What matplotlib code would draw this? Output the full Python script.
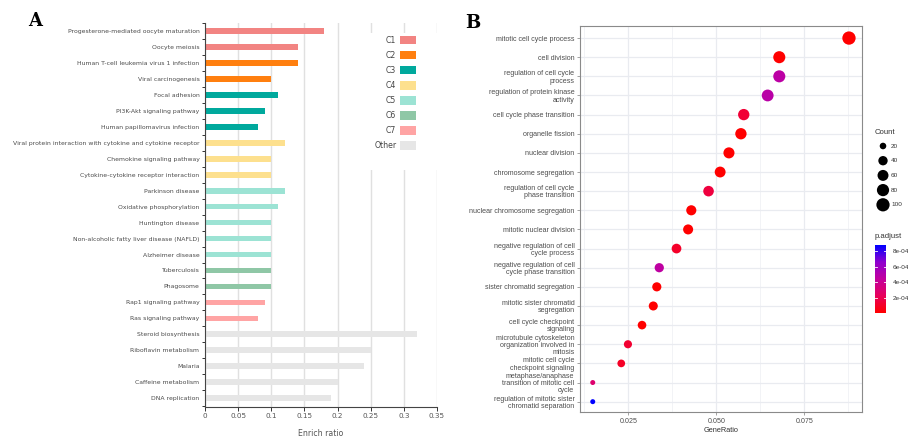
import numpy as np
import matplotlib
matplotlib.use('Agg')
import matplotlib.pyplot as plt
from matplotlib.colors import LinearSegmentedColormap, Normalize
from matplotlib.patches import Patch, Rectangle

# Panel A data
pathways = ['Progesterone-mediated oocyte maturation', 'Oocyte meiosis',
            'Human T-cell leukemia virus 1 infection', 'Viral carcinogenesis',
            'Focal adhesion', 'PI3K-Akt signaling pathway', 'Human papillomavirus infection',
            'Viral protein interaction with cytokine and cytokine receptor',
            'Chemokine signaling pathway', 'Cytokine-cytokine receptor interaction',
            'Parkinson disease', 'Oxidative phosphorylation', 'Huntington disease',
            'Non-alcoholic fatty liver disease (NAFLD)', 'Alzheimer disease',
            'Tuberculosis', 'Phagosome', 'Rap1 signaling pathway', 'Ras signaling pathway',
            'Steroid biosynthesis', 'Riboflavin metabolism', 'Malaria',
            'Caffeine metabolism', 'DNA replication']
enrich = [0.18, 0.14, 0.14, 0.10, 0.11, 0.09, 0.08, 0.12, 0.10, 0.10, 0.12, 0.11,
          0.10, 0.10, 0.10, 0.10, 0.10, 0.09, 0.08, 0.32, 0.25, 0.24, 0.20, 0.19]
cluster = ['C1', 'C1', 'C2', 'C2', 'C3', 'C3', 'C3', 'C4', 'C4', 'C4', 'C5', 'C5',
           'C5', 'C5', 'C5', 'C6', 'C6', 'C7', 'C7', 'Other', 'Other', 'Other',
           'Other', 'Other']
cluster_names = ['C1', 'C2', 'C3', 'C4', 'C5', 'C6', 'C7', 'Other']
cluster_colors = ['#F28482', '#FF7F0F', '#00A99D', '#FDE08E', '#9CE3D4',
                  '#8FC7A6', '#FFA4A4', '#E6E6E6']
xticks_a = [0, 0.05, 0.1, 0.15, 0.2, 0.25, 0.3, 0.35]
xtick_labels_a = ['0', '0.05', '0.1', '0.15', '0.2', '0.25', '0.3', '0.35']

# Panel B data
terms = ['mitotic cell cycle process', 'cell division',
         'regulation of cell cycle\nprocess', 'regulation of protein kinase\nactivity',
         'cell cycle phase transition', 'organelle fission', 'nuclear division',
         'chromosome segregation', 'regulation of cell cycle\nphase transition',
         'nuclear chromosome segregation', 'mitotic nuclear division',
         'negative regulation of cell\ncycle process',
         'negative regulation of cell\ncycle phase transition',
         'sister chromatid segregation', 'mitotic sister chromatid\nsegregation',
         'cell cycle checkpoint\nsignaling',
         'microtubule cytoskeleton\norganization involved in\nmitosis',
         'mitotic cell cycle\ncheckpoint signaling',
         'metaphase/anaphase\ntransition of mitotic cell\ncycle',
         'regulation of mitotic sister\nchromatid separation']
gene_ratio = [0.0877, 0.0679, 0.0679, 0.0646, 0.0578, 0.0570, 0.0536, 0.0511, 0.0478,
              0.0429, 0.0420, 0.0387, 0.0338, 0.0331, 0.0321, 0.0289, 0.0249, 0.0230,
              0.0149, 0.0149]
counts = [101, 78, 78, 74, 66, 66, 62, 59, 55, 49, 48, 44, 39, 38, 37, 33, 29, 26, 17, 17]
padj = [1e-5, 1e-5, 4.7e-4, 4.8e-4, 1.4e-4, 1e-5, 1e-5, 1e-5, 1.6e-4, 1e-5, 1e-5,
        1.1e-4, 4.6e-4, 1e-5, 1e-5, 1e-5, 1.3e-4, 1e-4, 2.9e-4, 8.8e-4]
count_breaks = [20, 40, 60, 80, 100]
padj_ticks = [2e-4, 4e-4, 6e-4, 8e-4]
padj_labels = ['2e-04', '4e-04', '6e-04', '8e-04']
xticks_b = [0.025, 0.050, 0.075]

W, H = 908, 437
fig = plt.figure(figsize=(W / 100, H / 100), dpi=100)

def fbox(x0, y0, x1, y1):
    # pixel box (top-left origin) -> figure fraction rect
    return [x0 / W, 1 - y1 / H, (x1 - x0) / W, (y1 - y0) / H]

# ---------------- Panel A ----------------
axA = fig.add_axes(fbox(205, 23, 437, 407))
col_map = dict(zip(cluster_names, cluster_colors))
y = np.arange(len(pathways))
axA.barh(y, enrich, height=0.36, color=[col_map[c] for c in cluster], zorder=2)
axA.set_ylim(len(pathways) - 0.45, -0.5)
axA.set_xlim(0, 0.35)
axA.set_yticks(y)
axA.set_yticklabels(pathways, fontsize=4.4, color='#4a4a4a')
axA.set_yticks(np.arange(len(pathways) + 1) - 0.5, minor=True)
axA.tick_params(axis='y', which='major', length=0, pad=4)
axA.tick_params(axis='y', which='minor', length=2.5, width=0.7, color='#333333')
axA.set_xticks(xticks_a)
axA.set_xticklabels(xtick_labels_a, fontsize=5.2, color='#555555')
axA.tick_params(axis='x', length=3, width=0.7, color='#333333', pad=1.5)
axA.grid(axis='x', color='#E0E0E0', lw=1)
axA.set_axisbelow(True)
for s in ['top', 'right']:
    axA.spines[s].set_visible(False)
for s in ['left', 'bottom']:
    axA.spines[s].set_color('#444444')
    axA.spines[s].set_linewidth(0.8)
axA.set_xlabel('Enrich ratio', fontsize=5.6, color='#555555', labelpad=7)
# white box behind the legend hides grid lines
axA.add_patch(Rectangle((0.245, 0.12), 0.12, 8.6, facecolor='white', edgecolor='none',
                        zorder=1, clip_on=False))
handles = [Patch(facecolor=c, edgecolor='none') for c in cluster_colors]
axA.legend(handles, cluster_names, loc='upper right', bbox_to_anchor=(0.91, 0.967),
           frameon=False, markerfirst=False, fontsize=5.6, handlelength=2.1,
           handleheight=1.3, labelspacing=0.78, handletextpad=0.45, borderpad=0,
           borderaxespad=0, labelcolor='#444444')
fig.text(35 / W, 1 - 21 / H, 'A', fontsize=13, fontweight='bold', family='DejaVu Serif',
         ha='center', va='center')

# ---------------- Panel B ----------------
sans = ['Liberation Sans', 'DejaVu Sans']
axB = fig.add_axes(fbox(580, 26, 862, 412))
cmap = LinearSegmentedColormap.from_list(
    'padj', ['#FF0000', '#E8005A', '#C2009E', '#8E00CF', '#0000FF'])
norm = Normalize(vmin=8e-6, vmax=max(padj))

d_min, d_max = 5.0, 13.3
def diam_px(c):
    return d_min + (d_max - d_min) * np.sqrt((np.asarray(c) - min(counts)) / (max(counts) - min(counts)))

yb = np.arange(len(terms))
axB.scatter(gene_ratio, yb, s=(diam_px(counts) * 0.72) ** 2, c=padj, cmap=cmap, norm=norm,
            edgecolors='none', zorder=3)
axB.set_ylim(len(terms) - 0.46, -0.63)
axB.set_xlim(0.01128, 0.0914)
axB.set_yticks(yb)
axB.set_yticklabels(terms, fontsize=5.1, color='#4D4D4D', family=sans, linespacing=1.05)
axB.set_xticks(xticks_b)
axB.set_xticklabels(['0.025', '0.050', '0.075'], fontsize=5.1, color='#4D4D4D', family=sans)
axB.set_xticks([0.0125, 0.0375, 0.0625, 0.0875], minor=True)
axB.tick_params(axis='both', which='major', length=2, width=0.5, color='#7F7F7F', pad=2)
axB.tick_params(axis='x', which='minor', length=0)
axB.grid(which='major', color='#E9EBF0', lw=0.9)
axB.grid(which='minor', axis='x', color='#F0F1F5', lw=0.6)
axB.set_axisbelow(True)
for s in axB.spines.values():
    s.set_color('#8A8A8A')
    s.set_linewidth(0.8)
axB.set_xlabel('GeneRatio', fontsize=5.3, color='#333333', family=sans, labelpad=2)
fig.text(473 / W, 1 - 23 / H, 'B', fontsize=13, fontweight='bold', family='DejaVu Serif',
         ha='center', va='center')

# Count legend
lax = fig.add_axes(fbox(868, 122, 908, 215))
lax.set_xlim(868, 908)
lax.set_ylim(215, 122)
lax.axis('off')
lax.text(875, 132, 'Count', fontsize=5.6, color='#333333', family=sans, va='center')
for i, b in enumerate(count_breaks):
    yy = 146 + i * 14.7
    lax.scatter([883], [yy], s=(diam_px(b) * 0.72) ** 2, color='black', edgecolors='none',
                clip_on=False)
    lax.text(891, yy, str(b), fontsize=4.6, color='#333333', family=sans, va='center',
             clip_on=False)

# p.adjust colorbar
fig.text(875 / W, 1 - 237 / H, 'p.adjust', fontsize=5.6, color='#333333', family=sans,
         va='center')
cax = fig.add_axes(fbox(875, 245, 886, 313))
cb = fig.colorbar(plt.cm.ScalarMappable(norm=norm, cmap=cmap), cax=cax)
cb.outline.set_visible(False)
cb.set_ticks(padj_ticks)
cb.set_ticklabels(padj_labels)
cax.tick_params(length=0, labelsize=4.6, labelcolor='#333333', pad=5)
for lab in cax.get_yticklabels():
    lab.set_family(sans)
for t in padj_ticks:
    cax.plot([0, 0.2], [t, t], color='white', lw=0.6)
    cax.plot([0.8, 1], [t, t], color='white', lw=0.6)

fig.savefig('out.png', dpi=100)
